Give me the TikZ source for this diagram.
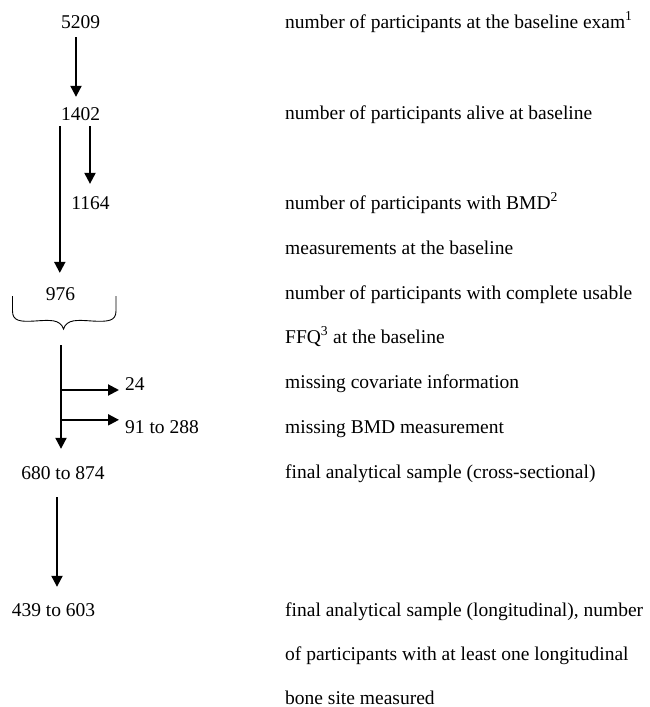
\documentclass[tikz,border=0pt]{standalone}
\usepackage{fontspec}
\setmainfont{Liberation Serif}
\usetikzlibrary{arrows.meta}
\begin{document}
\begin{tikzpicture}[x=1pt,y=-1pt,font=\fontsize{19.5pt}{23pt}\selectfont,
    num/.style={inner sep=0pt,anchor=base},
    txt/.style={inner sep=0pt,anchor=base west},
    link/.style={-{Triangle[length=11pt,width=11pt]},line width=2pt}]
        \useasboundingbox (0,0) rectangle (650,707);
        %% counts
        \node[num] (n5209) at (80.5,28) {5209};
        \node[num] (n1402) at (80.5,120) {1402};
        \node[num] (n1164) at (90.5,209) {1164};
        \node[num] (n976) at (60.5,300) {976};
        \node[num,anchor=base west] (n24) at (125,390) {24};
        \node[num,anchor=base west] (n91) at (125,433) {91 to 288};
        \node[num] (n680) at (63,479) {680 to 874};
        \node[num] (n439) at (53.5,616) {439 to 603};
        %% descriptions
        \node[txt] (d1) at (285,28) {number of participants at the baseline exam\textsuperscript{1}};
        \node[txt] (d2) at (285,119) {number of participants alive at baseline};
        \node[txt] (d3) at (285,209) {number of participants with BMD\textsuperscript{2}};
        \node[txt] (d4) at (285,254) {measurements at the baseline};
        \node[txt] (d5) at (285,299) {number of participants with complete usable};
        \node[txt] (d6) at (285,343) {FFQ\textsuperscript{3} at the baseline};
        \node[txt] (d7) at (285,388) {missing covariate information};
        \node[txt] (d8) at (285,433) {missing BMD measurement};
        \node[txt] (d9) at (285,478) {final analytical sample (cross-sectional)};
        \node[txt] (d10) at (285,616) {final analytical sample (longitudinal), number};
        \node[txt] (d11) at (285,660) {of participants with at least one longitudinal};
        \node[txt] (d12) at (285,704) {bone site measured};
        %% brace under 976
        \draw[line width=0.9pt] (12.5,296) -- (12.5,311) .. controls (12.5,321) and (20,322) .. (35,321)
            .. controls (50,320) and (60,319) .. (63.5,329) .. controls (67,319) and (77,320) .. (92,321)
            .. controls (108,322) and (116,321) .. (116,311) -- (116,296);
        \coordinate (split) at (61,345);
        %% arrows
        \draw[link,shorten <=9pt,shorten >=10pt] ([xshift=-4.5pt]n5209.south) -- ([xshift=-4.5pt]n1402.north);
        \draw[link,shorten <=6pt,shorten >=14pt] ([xshift=-1pt]n1402.south west) -- ([xshift=-1pt]n1402.south west |- n976.north);
        \draw[link,shorten <=6pt,shorten >=12pt] ([xshift=9.5pt]n1402.south) -- ([xshift=9.5pt]n1402.south |- n1164.north);
        \draw[link,shorten >=17pt] (split) -- (split |- n680.north);
        \draw[link,shorten >=6pt] (split |- n24.base west) -- (n24.base west);
        \draw[link,shorten >=6pt] (split |- n91.north west) -- (n91.north west);
        \draw[link,shorten <=18pt,shorten >=16pt] ([xshift=-6pt]n680.south) -- ([xshift=-6pt]n680.south |- n439.north);
    \end{tikzpicture}
\end{document}
